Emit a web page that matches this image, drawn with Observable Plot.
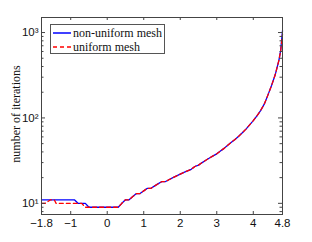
<!DOCTYPE html>
<html><head><meta charset="utf-8">
<script src="https://cdn.jsdelivr.net/npm/d3@7"></script>
<script src="https://cdn.jsdelivr.net/npm/@observablehq/plot@0.6"></script>
<style>
body{margin:0;background:#fff;}
#wrap{position:relative;width:312px;height:242px;}
#legend{position:absolute;left:50px;top:24px;width:113px;height:28px;border:1px solid #555;background:#fff;
 font-family:"Liberation Serif","Times New Roman",serif;font-size:12px;color:#111;}
#legend .row{position:absolute;left:2px;height:14px;display:flex;align-items:center;white-space:nowrap;}
#legend svg{display:block;margin-right:2px;}
</style></head>
<body><div id="wrap"></div>
<script>
const xTicks = [-1.8, -1, 0, 1, 2, 3, 4, 4.8];
const yTicks = [10, 100, 1000];
const yMinor = [8, 9, 20, 30, 40, 50, 60, 70, 80, 90, 200, 300, 400, 500, 600, 700, 800, 900];
const seriesNames = ["non-uniform mesh", "uniform mesh"];

const xNonUniform = [-1.8, -0.9, -0.8, -0.6, -0.5, 0.3, 0.4, 0.5, 0.6, 0.7, 0.8, 0.9, 1.0, 1.1, 1.2, 1.3, 1.4, 1.5, 1.6, 1.7, 1.8, 1.9, 2.0, 2.1, 2.2, 2.3, 2.4, 2.5, 2.6, 2.7, 2.8, 2.9, 3.0, 3.1, 3.2, 3.3, 3.4, 3.5, 3.6, 3.7, 3.8, 3.9, 4.0, 4.1, 4.2, 4.3, 4.4, 4.5, 4.6, 4.7, 4.75, 4.8];
const itNonUniform = [11, 11, 10, 10, 9, 9, 10, 11, 11, 12, 13, 13, 14, 15, 15, 16, 17, 18, 18, 19, 20, 21, 22, 23, 24, 25, 27, 28, 30, 32, 34, 36, 38, 41, 44, 48, 52, 56, 61, 67, 74, 83, 93, 106, 122, 145, 185, 240, 320, 470, 620, 1050];

const xUniform = [-1.8, -1.7, -1.55, -1.45, -1.4, -0.7, -0.6, 0.3, 0.4, 0.5, 0.6, 0.7, 0.8, 0.9, 1.0, 1.1, 1.2, 1.3, 1.4, 1.5, 1.6, 1.7, 1.8, 1.9, 2.0, 2.1, 2.2, 2.3, 2.4, 2.5, 2.6, 2.7, 2.8, 2.9, 3.0, 3.1, 3.2, 3.3, 3.4, 3.5, 3.6, 3.7, 3.8, 3.9, 4.0, 4.1, 4.2, 4.3, 4.4, 4.5, 4.6, 4.7, 4.75, 4.8];
const itUniform = [10, 10, 11, 11, 10, 10, 9, 9, 10, 11, 11, 12, 13, 13, 14, 15, 15, 16, 17, 18, 18, 19, 20, 21, 22, 23, 24, 25, 27, 28, 30, 32, 34, 36, 38, 41, 44, 48, 52, 56, 61, 67, 74, 83, 93, 106, 122, 145, 185, 240, 320, 470, 610, 950];

const nonUniform = xNonUniform.map((x, i) => ({x, n: itNonUniform[i]}));
const uniform = xUniform.map((x, i) => ({x, n: itUniform[i]}));

const W = 312, H = 242, mL = 41, mR = 30, mT = 17, mB = 28;
const innerW = W - mL - mR, innerH = H - mT - mB;
const axisColor = "#444";
const sup = {1: "\u00b9", 2: "\u00b2", 3: "\u00b3"};
const fmtX = d => (d < 0 ? "\u2212" : "") + String(Math.abs(d));

const chart = Plot.plot({
  width: W, height: H, marginLeft: mL, marginRight: mR, marginTop: mT, marginBottom: mB,
  x: {domain: [-1.8, 4.8]},
  y: {type: "log", domain: [7.4, 1500]},
  style: {fontFamily: "'Liberation Sans', Arial, sans-serif", fontSize: "11px", color: "#111", background: "#fff"},
  marks: [
    Plot.line(nonUniform, {x: "x", y: "n", stroke: "#0000ff", strokeWidth: 1.3}),
    Plot.line(uniform, {x: "x", y: "n", stroke: "#ff0000", strokeWidth: 1.3, strokeDasharray: "4,3"}),
    Plot.frame({stroke: axisColor}),
    Plot.tickX(xTicks, {x: d => d, insetTop: innerH - 3, stroke: axisColor}),
    Plot.tickX(xTicks, {x: d => d, insetBottom: innerH - 3, stroke: axisColor}),
    Plot.tickY(yTicks, {y: d => d, insetRight: innerW - 4, stroke: axisColor}),
    Plot.tickY(yTicks, {y: d => d, insetLeft: innerW - 4, stroke: axisColor}),
    Plot.tickY(yMinor, {y: d => d, insetRight: innerW - 2.5, stroke: axisColor}),
    Plot.tickY(yMinor, {y: d => d, insetLeft: innerW - 2.5, stroke: axisColor}),
    Plot.axisX(xTicks, {tickSize: 0, tickPadding: 4, label: null, fontSize: 11.5, tickFormat: fmtX}),
    Plot.axisY(yTicks, {tickSize: 0, tickPadding: 3, label: null, fontSize: 11.5,
      tickFormat: d => "10" + sup[Math.round(Math.log10(d))]}),
    Plot.text(["number of iterations"], {frameAnchor: "left", textAnchor: "middle", rotate: -90, dx: -25, dy: -2,
      fontFamily: "'Liberation Serif', 'Times New Roman', serif", fontSize: 12, fill: "#111"})
  ]
});
const wrap = document.getElementById("wrap");
wrap.appendChild(chart);

const legend = document.createElement("div");
legend.id = "legend";
const styles = [{stroke: "#0000ff", dash: null}, {stroke: "#ff0000", dash: "4,3"}];
seriesNames.forEach((name, i) => {
  const row = document.createElement("div");
  row.className = "row";
  row.style.top = (i === 0 ? 1 : 15) + "px";
  const s = styles[i];
  row.innerHTML = `<svg width="18" height="6"><line x1="0" y1="3" x2="18" y2="3" stroke="${s.stroke}" stroke-width="1.5" ${s.dash ? `stroke-dasharray="${s.dash}"` : ""}/></svg><span>${name}</span>`;
  legend.appendChild(row);
});
wrap.appendChild(legend);
</script></body></html>
